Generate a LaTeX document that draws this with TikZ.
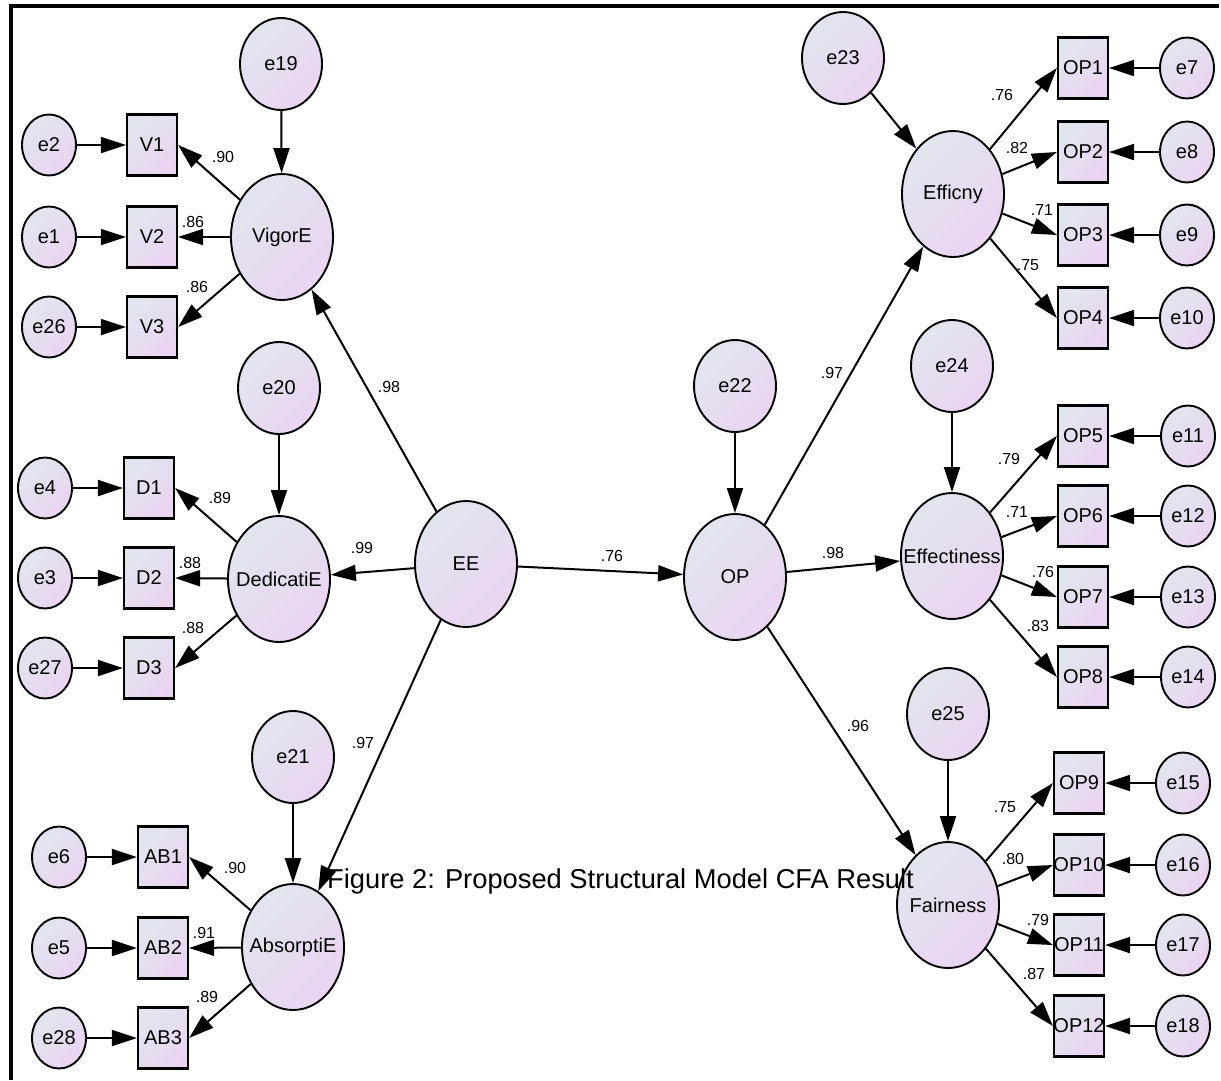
\documentclass[tikz,border=0pt]{standalone}
\usepackage{fontspec}
\setmainfont{Liberation Sans}
\usetikzlibrary{shapes.geometric}
\usetikzlibrary{arrows.meta}

\definecolor{shadetop}{HTML}{E1E5EE}
\definecolor{shadebot}{HTML}{EBD4F2}

\begin{document}
\begin{tikzpicture}[x=1pt,y=-1pt,
            lat/.style={ellipse,draw,line width=1.9pt,minimum width=102pt,minimum height=126pt,inner xsep=-30pt,inner ysep=-20pt,top color=shadetop,bottom color=shadebot,shading angle=45,font=\fontsize{20}{24}\selectfont},
            err/.style={ellipse,draw,line width=1.9pt,minimum width=54pt,minimum height=61pt,inner sep=0pt,top color=shadetop,bottom color=shadebot,shading angle=45,font=\fontsize{20}{24}\selectfont},
            disturb/.style={err,minimum width=82pt,minimum height=92pt},
            obs/.style={rectangle,draw,line width=2.2pt,minimum width=50pt,minimum height=61pt,inner xsep=-5pt,inner ysep=0pt,top color=shadetop,bottom color=shadebot,shading angle=45,font=\fontsize{20}{24}\selectfont},
            coef/.style={inner sep=0pt,font=\fontsize{16}{18}\selectfont},
            arr/.style={line width=2pt,-{Triangle[length=25pt,width=16pt]}},
            ]
            \useasboundingbox (0,0) rectangle (1221,1080);
            \draw[line width=3.5pt] (11,1080) -- (11,6) -- (1219,6);

            % engagement side
            \node[disturb] (e19) at (281,64) {e19};
            \node[lat] (VigorE) at (282,237) {VigorE};
            \node[obs] (V1) at (152,145) {V1};
            \node[obs] (V2) at (152,237) {V2};
            \node[obs] (V3) at (152,327) {V3};
            \node[err] (e2) at (49,145) {e2};
            \node[err] (e1) at (49,237) {e1};
            \node[err] (e26) at (49,327) {e26};

            \node[disturb] (e20) at (279,388) {e20};
            \node[lat] (DedicatiE) at (279,579) {DedicatiE};
            \node[obs] (D1) at (149,488) {D1};
            \node[obs] (D2) at (149,578) {D2};
            \node[obs] (D3) at (149,668) {D3};
            \node[err] (e4) at (45,488) {e4};
            \node[err] (e3) at (45,578) {e3};
            \node[err] (e27) at (45,668) {e27};

            \node[disturb] (e21) at (293,757) {e21};
            \node[lat] (AbsorptiE) at (293,947) {AbsorptiE};
            \node[obs] (AB1) at (163,857) {AB1};
            \node[obs] (AB2) at (163,948) {AB2};
            \node[obs] (AB3) at (163,1038) {AB3};
            \node[err] (e6) at (59,857) {e6};
            \node[err] (e5) at (59,948) {e5};
            \node[err] (e28) at (59,1038) {e28};

            \node[lat] (EE) at (466,564) {EE};

            % performance side
            \node[disturb] (e22) at (735,386) {e22};
            \node[lat] (OP) at (735,577) {OP};

            \node[disturb] (e23) at (843,58) {e23};
            \node[lat] (Efficny) at (953,194) {Efficny};
            \node[obs] (OP1) at (1083,68) {OP1};
            \node[obs] (OP2) at (1083,152) {OP2};
            \node[obs] (OP3) at (1083,235) {OP3};
            \node[obs] (OP4) at (1083,318) {OP4};
            \node[err] (e7) at (1187,68) {e7};
            \node[err] (e8) at (1187,152) {e8};
            \node[err] (e9) at (1187,235) {e9};
            \node[err] (e10) at (1187,318) {e10};

            \node[disturb] (e24) at (952,366) {e24};
            \node[lat] (Effectiness) at (952,556) {Effectiness};
            \node[obs] (OP5) at (1083,436) {OP5};
            \node[obs] (OP6) at (1083,516) {OP6};
            \node[obs] (OP7) at (1083,597) {OP7};
            \node[obs] (OP8) at (1083,677) {OP8};
            \node[err] (e11) at (1188,436) {e11};
            \node[err] (e12) at (1188,516) {e12};
            \node[err] (e13) at (1188,597) {e13};
            \node[err] (e14) at (1188,677) {e14};

            \node[disturb] (e25) at (948,714) {e25};
            \node[lat] (Fairness) at (948,905) {Fairness};
            \node[obs] (OP9) at (1079,783) {OP9};
            \node[obs] (OP10) at (1079,865) {OP10};
            \node[obs] (OP11) at (1079,945) {OP11};
            \node[obs] (OP12) at (1079,1026) {OP12};
            \node[err] (e15) at (1183,783) {e15};
            \node[err] (e16) at (1183,865) {e16};
            \node[err] (e17) at (1183,945) {e17};
            \node[err] (e18) at (1183,1026) {e18};

            % paths
            \draw[arr] (e19) -- (VigorE);
            \draw[arr] (VigorE) -- (V1.east);
            \draw[arr] (VigorE) -- (V2.east);
            \draw[arr] (VigorE) -- (V3.east);
            \draw[arr] (e2) -- (V1);
            \draw[arr] (e1) -- (V2);
            \draw[arr] (e26) -- (V3);

            \draw[arr] (e20) -- (DedicatiE);
            \draw[arr] (DedicatiE) -- (D1.east);
            \draw[arr] (DedicatiE) -- (D2.east);
            \draw[arr] (DedicatiE) -- (D3.east);
            \draw[arr] (e4) -- (D1);
            \draw[arr] (e3) -- (D2);
            \draw[arr] (e27) -- (D3);

            \draw[arr] (e21) -- (AbsorptiE);
            \draw[arr] (AbsorptiE) -- (AB1.east);
            \draw[arr] (AbsorptiE) -- (AB2.east);
            \draw[arr] (AbsorptiE) -- (AB3.east);
            \draw[arr] (e6) -- (AB1);
            \draw[arr] (e5) -- (AB2);
            \draw[arr] (e28) -- (AB3);

            \draw[arr] (EE) -- (VigorE);
            \draw[arr] (EE) -- (DedicatiE);
            \draw[arr] (EE) -- (AbsorptiE);
            \draw[arr] (EE) -- (OP);

            \draw[arr] (e22) -- (OP);
            \draw[arr] (OP) -- (Efficny);
            \draw[arr] (OP) -- (Effectiness);
            \draw[arr] (OP) -- (Fairness);

            \draw[arr] (e23) -- (Efficny);
            \draw[arr] (Efficny) -- (OP1.west);
            \draw[arr] (Efficny) -- (OP2.west);
            \draw[arr] (Efficny) -- (OP3.west);
            \draw[arr] (Efficny) -- (OP4.west);
            \draw[arr] (e7) -- (OP1);
            \draw[arr] (e8) -- (OP2);
            \draw[arr] (e9) -- (OP3);
            \draw[arr] (e10) -- (OP4);

            \draw[arr] (e24) -- (Effectiness);
            \draw[arr] (Effectiness) -- (OP5.west);
            \draw[arr] (Effectiness) -- (OP6.west);
            \draw[arr] (Effectiness) -- (OP7.west);
            \draw[arr] (Effectiness) -- (OP8.west);
            \draw[arr] (e11) -- (OP5);
            \draw[arr] (e12) -- (OP6);
            \draw[arr] (e13) -- (OP7);
            \draw[arr] (e14) -- (OP8);

            \draw[arr] (e25) -- (Fairness);
            \draw[arr] (Fairness) -- (OP9.west);
            \draw[arr] (Fairness) -- (OP10.west);
            \draw[arr] (Fairness) -- (OP11.west);
            \draw[arr] (Fairness) -- (OP12.west);
            \draw[arr] (e15) -- (OP9);
            \draw[arr] (e16) -- (OP10);
            \draw[arr] (e17) -- (OP11);
            \draw[arr] (e18) -- (OP12);

            % estimates
            \node[coef] (cV1) at (223,157) {.90};
            \node[coef] (cV2) at (193,222) {.86};
            \node[coef] (cV3) at (197,287) {.86};
            \node[coef] (cD1) at (220,498) {.89};
            \node[coef] (cD2) at (190,563) {.88};
            \node[coef] (cD3) at (193,628) {.88};
            \node[coef] (cAB1) at (235,868) {.90};
            \node[coef] (cAB2) at (204,933) {.91};
            \node[coef] (cAB3) at (207,997) {.89};
            \node[coef] (cVig) at (389,387) {.98};
            \node[coef] (cDed) at (362,548) {.99};
            \node[coef] (cAbs) at (363,743) {.97};
            \node[coef] (cEEOP) at (612,556) {.76};
            \node[coef] (cEff) at (832,373) {.97};
            \node[coef] (cEft) at (833,553) {.98};
            \node[coef] (cFai) at (858,726) {.96};
            \node[coef] (cOP1) at (1002,95) {.76};
            \node[coef] (cOP2) at (1017,148) {.82};
            \node[coef] (cOP3) at (1042,210) {.71};
            \node[coef] (cOP4) at (1028,265) {.75};
            \node[coef] (cOP5) at (1009,459) {.79};
            \node[coef] (cOP6) at (1017,512) {.71};
            \node[coef] (cOP7) at (1043,572) {.76};
            \node[coef] (cOP8) at (1038,626) {.83};
            \node[coef] (cOP9) at (1005,807) {.75};
            \node[coef] (cOP10) at (1013,859) {.80};
            \node[coef] (cOP11) at (1038,920) {.79};
            \node[coef] (cOP12) at (1034,974) {.87};

            \node[anchor=base west,inner sep=0pt,font=\fontsize{27.3}{32}\selectfont] (caption) at (327,888) {Figure 2: Proposed Structural Model CFA Result};
        \end{tikzpicture}
\end{document}
